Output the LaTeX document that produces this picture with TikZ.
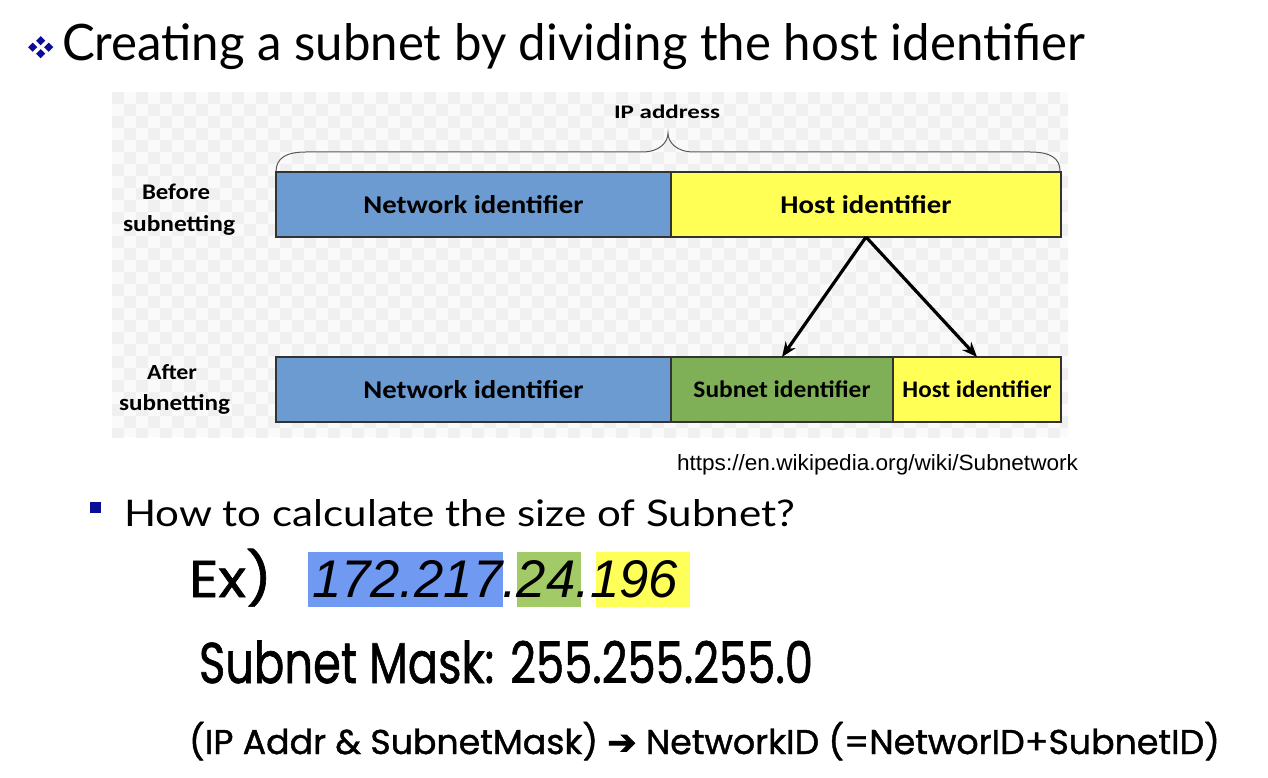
\documentclass[tikz,border=0pt]{standalone}
\usepackage{fontspec}
\usepackage{graphicx}
\setmainfont{Lato}
\newfontfamily\gillf{Lato}
\newfontfamily\calibf{Carlito}
\newfontfamily\arialf{Liberation Sans}
\newfontfamily\comicf[FakeBold=1.2]{Poppins}
\newfontfamily\djvf[FakeBold=2.5]{DejaVu Sans}
\usetikzlibrary{arrows.meta}
\newcommand{\fitt}[3]{\resizebox{#1pt}{#2pt}{#3}}
% width, cap height, font, text
\newcommand{\capfit}[4]{\begingroup
  \sbox0{#3#4}\sbox2{#3H}%
  \pgfmathsetmacro\cfsx{#1/\the\wd0}%
  \pgfmathsetmacro\cfsy{#2/\the\ht2}%
  \scalebox{\cfsx}[\cfsy]{\usebox0}\endgroup}
\definecolor{netblue}{HTML}{6C9BD2}
\definecolor{hostyel}{HTML}{FFFF55}
\definecolor{subgrn}{HTML}{7FAF57}
\definecolor{hlblue}{HTML}{7099F2}
\definecolor{hlgreen}{HTML}{A2CB68}
\definecolor{hlyel}{HTML}{FFFF5A}
\definecolor{bulblue}{HTML}{0C0C98}
\definecolor{chkA}{HTML}{FAFAFA}
\definecolor{chkB}{HTML}{F0F0F0}
\definecolor{edge}{HTML}{333333}
\tikzset{
  txt/.style={anchor=base west, inner sep=0pt, outer sep=0pt},
  bar/.style={draw=edge, line width=1.4pt, inner sep=0pt, outer sep=0pt, font=\calibf\bfseries},
  splitarrow/.style={line width=3.2pt, -{Stealth[length=15pt,width=12pt]}},
  bracestyle/.style={draw=black!65, line width=1pt},
}
\begin{document}
\begin{tikzpicture}[x=1pt,y=-1pt]
\useasboundingbox (0,0) rectangle (1268,778);
\fill[white] (0,0) rectangle (1268,778);
% title bullet
\foreach \cx/\cy in {40.7/40.7, 32.7/47.2, 48.7/47.2, 40.7/53.7}
  \fill[bulblue] (\cx,\cy-4.6) -- (\cx+4.6,\cy) -- (\cx,\cy+4.6) -- (\cx-4.6,\cy) -- cycle;
\node[txt] (title) at (62,61) {\fitt{1023}{37}{\gillf Creating a subnet by dividing the host identifier}};
% checkered background
\begin{scope}
\clip (112,92) rectangle (1068,437);
\fill[chkA] (112,92) rectangle (1068,437);
\foreach \j in {0,...,28} {
  \pgfmathsetmacro\off{mod(\j,2)*12}
  \foreach \i in {0,24,...,960}
    \fill[chkB] (112+\i+\off,92+12*\j) rectangle ++(12,12);
}
\end{scope}
% IP address label and brace
\node[txt] (iplab) at (614,119) {\fitt{106}{13.5}{\calibf\bfseries IP address}};
\draw[bracestyle] (276,172) .. controls (276,158) and (286,152) .. (306,152)
  -- (642,152) .. controls (660,152) and (668,142) .. (668,133)
  .. controls (668,142) and (676,152) .. (694,152)
  -- (1030,152) .. controls (1050,152) and (1060,158) .. (1060,171);
% row labels
\node[txt] (bef1) at (142,200) {\fitt{68}{15.5}{\calibf\bfseries Before}};
\node[txt] (bef2) at (123,231) {\fitt{112}{16}{\calibf\bfseries subnetting}};
\node[txt] (aft1) at (147,379) {\fitt{50}{15}{\calibf\bfseries After}};
\node[txt] (aft2) at (119,410) {\fitt{111}{16}{\calibf\bfseries subnetting}};
% top row bars
\node[bar, fill=netblue, minimum width=395pt, minimum height=65pt] (net1) at (473.5,204.5) {\fitt{220}{18}{Network identifier}};
\node[bar, fill=hostyel, minimum width=390pt, minimum height=65pt] (host1) at (866,204.5) {\fitt{171}{18}{Host identifier}};
% bottom row bars
\node[bar, fill=netblue, minimum width=395pt, minimum height=65pt] (net2) at (473.5,389.5) {\fitt{220}{18}{Network identifier}};
\node[bar, fill=subgrn, minimum width=222pt, minimum height=65pt] (sub2) at (782,389.5) {\fitt{177}{16.7}{Subnet identifier}};
\node[bar, fill=hostyel, minimum width=168pt, minimum height=65pt] (host2) at (977,389.5) {\fitt{149}{16.7}{Host identifier}};
% split arrows
\draw[splitarrow] (host1.south) -- (sub2.north);
\draw[splitarrow] (host1.south) -- (host2.north);
% source
\node[txt] (url) at (677,470) {\fitt{401}{16}{\arialf https://en.wikipedia.org/wiki/Subnetwork}};
% second bullet
\fill[bulblue] (90,502) rectangle (101,513);
\node[txt] (how) at (124,526) {\fitt{671}{27}{\gillf How to calculate the size of Subnet?}};
% example
\fill[hlblue] (308,552) rectangle (503,607);
\fill[hlgreen] (517,552) rectangle (581,607);
\fill[hlyel] (596,552) rectangle (690,607);
\node[txt] (ex) at (189,597) {\capfit{83}{36}{\comicf}{Ex)}};
\node[txt] (ipnum) at (312,597) {\fitt{366}{37}{\arialf\itshape 172.217.24.196}};
\node[txt] (mask) at (199,683) {\capfit{614}{40}{\comicf}{Subnet Mask: 255.255.255.0}};
\node[txt] (formula) at (189,754) {\capfit{1031}{24}{\comicf}{(IP Addr \& SubnetMask) {\djvf ➔} NetworkID (=NetworID+SubnetID)}};
\end{tikzpicture}
\end{document}
